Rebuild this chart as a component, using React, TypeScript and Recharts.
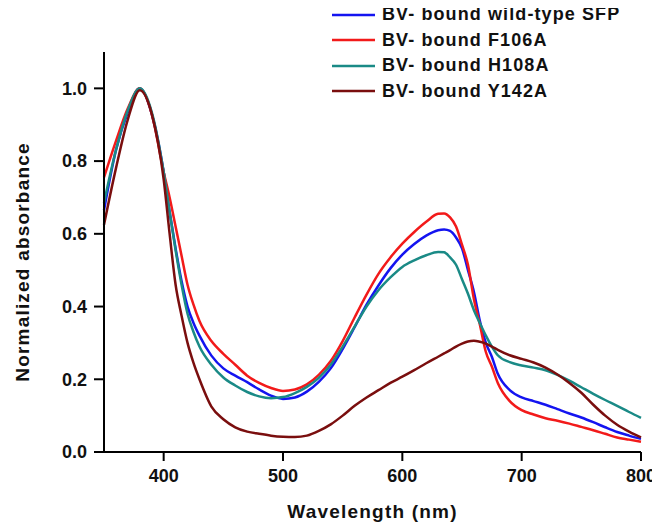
import { LineChart, Line, XAxis, YAxis, Legend } from "recharts";

const wavelengths = [
  350, 360, 370, 380, 390, 400, 405, 410, 415, 420, 425, 430, 440, 450, 460, 470, 480, 490, 500, 510,
  520, 530, 540, 550, 560, 570, 580, 590, 600, 610, 620, 630, 635, 640, 645, 650, 655, 660, 665, 670,
  675, 680, 690, 700, 710, 720, 730, 740, 750, 760, 770, 780, 790, 800,
];

const wildType = [
  0.665, 0.83, 0.935, 1.0, 0.93, 0.77, 0.66, 0.56, 0.47, 0.4, 0.355, 0.32, 0.265, 0.23, 0.21, 0.192, 0.172, 0.155, 0.146, 0.15,
  0.166, 0.193, 0.23, 0.283, 0.343, 0.405, 0.458, 0.505, 0.543, 0.572, 0.595, 0.61, 0.612, 0.608, 0.59, 0.56, 0.5, 0.44, 0.36, 0.3,
  0.262, 0.215, 0.17, 0.15, 0.14, 0.13, 0.118, 0.106, 0.095, 0.082, 0.068, 0.055, 0.045, 0.036,
];

const f106a = [
  0.755, 0.855, 0.945, 1.0, 0.93, 0.77, 0.7, 0.62, 0.54, 0.46, 0.405, 0.36, 0.305, 0.27, 0.24, 0.21, 0.19, 0.176, 0.168, 0.172,
  0.186, 0.212, 0.25, 0.305, 0.37, 0.433, 0.49, 0.535, 0.573, 0.605, 0.633, 0.655, 0.656, 0.645, 0.62, 0.57, 0.515, 0.42, 0.35, 0.275,
  0.235, 0.19, 0.14, 0.115, 0.103, 0.093, 0.086, 0.078, 0.069, 0.06, 0.05, 0.04, 0.034, 0.028,
];

const h108a = [
  0.685, 0.83, 0.94, 1.0, 0.935, 0.77, 0.66, 0.555, 0.46, 0.38, 0.33, 0.29, 0.24, 0.205, 0.183, 0.165, 0.153, 0.148, 0.151, 0.162,
  0.179, 0.204, 0.24, 0.29, 0.345, 0.4, 0.445, 0.48, 0.509, 0.527, 0.541, 0.55, 0.549, 0.535, 0.515, 0.475, 0.435, 0.39, 0.354, 0.32,
  0.29, 0.266, 0.247, 0.238, 0.232, 0.225, 0.212, 0.196, 0.178, 0.16, 0.143, 0.127, 0.11, 0.094,
];

const y142a = [
  0.625, 0.78, 0.915, 0.995, 0.93, 0.75, 0.6, 0.46, 0.375, 0.3, 0.245, 0.2, 0.125, 0.09, 0.068, 0.056, 0.05, 0.045, 0.042, 0.041,
  0.045, 0.058, 0.076, 0.1, 0.127, 0.15, 0.17, 0.19, 0.207, 0.225, 0.244, 0.262, 0.271, 0.28, 0.29, 0.298, 0.304, 0.306, 0.303, 0.298,
  0.29, 0.281, 0.266, 0.256, 0.246, 0.232, 0.213, 0.19, 0.163, 0.13, 0.1, 0.075, 0.056, 0.04,
];

const xTicks = [400, 500, 600, 700, 800];
const yTicks = [0, 0.2, 0.4, 0.6, 0.8, 1.0];

const series = [
  { key: "wt", name: "BV- bound wild-type SFP", color: "#1414f0", values: wildType },
  { key: "f106a", name: "BV- bound F106A", color: "#f21a1a", values: f106a },
  { key: "h108a", name: "BV- bound H108A", color: "#1a8a86", values: h108a },
  { key: "y142a", name: "BV- bound Y142A", color: "#7a0e0e", values: y142a },
];

const data = wavelengths.map((w, i) => {
  const row: any = { w };
  series.forEach((s) => (row[s.key] = s.values[i]));
  return row;
});

const font = '"Liberation Sans", Arial, sans-serif';

function LegendBox() {
  return (
    <div style={{ fontFamily: font, fontWeight: 700, fontSize: 18, letterSpacing: 1.1 }}>
      {series.map((s) => (
        <div key={s.key} style={{ height: 25.5, display: "flex", alignItems: "center" }}>
          <svg width={50} height={6}>
            <line x1={0} y1={3} x2={43} y2={3} stroke={s.color} strokeWidth={2.5} />
          </svg>
          <span style={{ color: "#111" }}>{s.name}</span>
        </div>
      ))}
    </div>
  );
}

function YLabel({ viewBox }: any) {
  const cy = viewBox.y + viewBox.height / 2 + 10;
  return (
    <text
      x={21}
      y={cy}
      transform={`rotate(-90, 21, ${cy})`}
      textAnchor="middle"
      fontFamily={font}
      fontWeight={700}
      fontSize={19}
      letterSpacing={1.2}
      fill="#111"
    >
      Normalized absorbance
    </text>
  );
}

export default function App() {
  const tickStyle = { fontFamily: font, fontWeight: 700, fontSize: 18, fill: "#111" };
  return (
    <LineChart width={652} height={521} data={data} margin={{ top: 44, right: 19, left: 0, bottom: 0 }}>
      <XAxis
        dataKey="w"
        type="number"
        domain={[350, 800]}
        ticks={xTicks}
        height={77}
        tickSize={9}
        tickMargin={8}
        tick={tickStyle}
        axisLine={{ stroke: "#000", strokeWidth: 2 }}
        tickLine={{ stroke: "#000", strokeWidth: 2 }}
        label={{
          value: "Wavelength (nm)",
          position: "insideBottom",
          offset: 11,
          style: { fontFamily: font, fontWeight: 700, fontSize: 19, letterSpacing: 1.2, fill: "#111" },
        }}
      />
      <YAxis
        type="number"
        domain={[0, 1.1]}
        ticks={yTicks}
        width={96}
        tickSize={10}
        tickMargin={7}
        tick={tickStyle}
        tickFormatter={(v: number) => v.toFixed(1)}
        axisLine={{ stroke: "#000", strokeWidth: 2 }}
        tickLine={{ stroke: "#000", strokeWidth: 2 }}
        label={<YLabel />}
      />
      <Legend
        layout="vertical"
        align="center"
        verticalAlign="middle"
        wrapperStyle={{ top: -6, left: 324, width: 330 }}
        content={<LegendBox />}
      />
      {series.map((s) => (
        <Line
          key={s.key}
          dataKey={s.key}
          name={s.name}
          type="monotone"
          stroke={s.color}
          strokeWidth={2.5}
          dot={false}
          isAnimationActive={false}
        />
      ))}
    </LineChart>
  );
}
